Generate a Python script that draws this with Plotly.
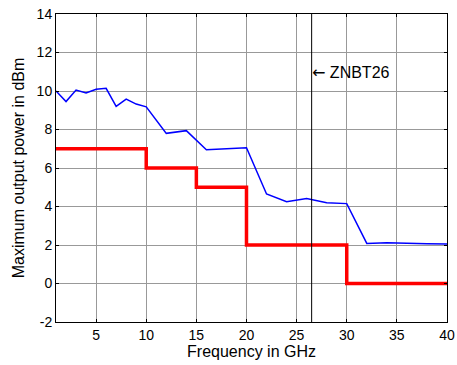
import plotly.graph_objects as go

freq_blue = [1, 2, 3, 4, 5, 6, 7, 8, 9, 10, 12, 14, 16, 18, 20, 22, 24, 26, 28, 30, 32, 34, 36, 38, 40]
power_blue = [10.0, 9.45, 10.05, 9.9, 10.09, 10.14, 9.2, 9.58, 9.32, 9.18, 7.8, 7.94, 6.95, 7.0, 7.05,
              4.65, 4.25, 4.42, 4.2, 4.15, 2.08, 2.12, 2.08, 2.07, 2.05]

freq_red = [1, 10, 10, 15, 15, 20, 20, 30, 30, 40]
power_red = [7, 7, 6, 6, 5, 5, 2, 2, 0, 0]

marker_x = 26.5
marker_y = 10.95
marker_label = "ZNBT26"
x_ticks = [5, 10, 15, 20, 25, 30, 35, 40]
y_ticks = [-2, 0, 2, 4, 6, 8, 10, 12, 14]
y_tick_labels = ["-2", "0", "2", "4", "6", "8", "10", "12", "14"]

FONT = "Liberation Sans, Arial"

fig = go.Figure()
fig.add_trace(go.Scatter(x=freq_blue, y=power_blue, mode="lines",
                         line=dict(color="#0000ff", width=1.5), showlegend=False))
fig.add_trace(go.Scatter(x=freq_red, y=power_red, mode="lines",
                         line=dict(color="#ff0000", width=3.5), showlegend=False))
fig.add_trace(go.Scatter(x=[marker_x, marker_x], y=[-2, 14], mode="lines",
                         line=dict(color="black", width=1), showlegend=False))
fig.add_annotation(x=marker_x, y=marker_y,
                   text="<span style='font-family:DejaVu Sans'>\u2190</span> " + marker_label,
                   showarrow=False, xanchor="left", yanchor="middle", xshift=-2,
                   font=dict(size=16, color="black", family=FONT))

axis_common = dict(showline=True, linecolor="black", linewidth=1, mirror="ticks",
                   ticks="inside", ticklen=3, tickcolor="black",
                   showgrid=True, gridcolor="#999999", gridwidth=1, zeroline=False,
                   automargin=False,
                   tickfont=dict(size=14, color="black", family=FONT))

fig.update_xaxes(range=[1, 40], tickvals=x_ticks,
                 title=dict(text="Frequency in GHz", standoff=2,
                            font=dict(size=16, color="black", family=FONT)), **axis_common)
fig.update_yaxes(range=[-2, 14], tickvals=y_ticks, ticktext=y_tick_labels,
                 title=dict(text="Maximum output power in dBm", standoff=8,
                            font=dict(size=16, color="black", family=FONT)), **axis_common)

fig.update_layout(width=457, height=365, margin=dict(l=56, r=10, t=14, b=43),
                  plot_bgcolor="white", paper_bgcolor="white",
                  font=dict(family=FONT, color="black"))

fig.write_html("out.html", config={"displayModeBar": False},
               post_script="document.body.style.margin='0';document.body.style.overflow='hidden';")
